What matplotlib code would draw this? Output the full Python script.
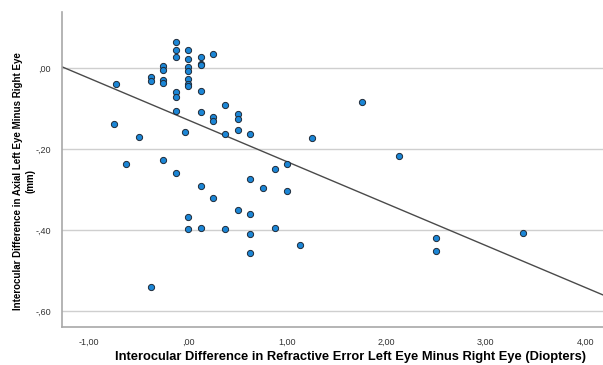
import numpy as np
import matplotlib
matplotlib.use('Agg')
import matplotlib.pyplot as plt
from matplotlib.ticker import FuncFormatter

# 굴절 오차 차이 (D)
refr_diff = [-0.125, -0.125, -0.125, 0.0, 0.0, 0.125, 0.125, 0.125, 0.25, -0.25,
             -0.25, 0.0, 0.0, -0.375, -0.375, -0.25, -0.25, 0.0, 0.0, 0.0,
             -0.73, -0.125, -0.125, 0.125, -0.125, 0.125, 0.25, 0.25, 0.375, -0.75,
             0.5, 0.5, 0.5, 0.375, 0.625, -0.5, -0.035, -0.25, -0.625, -0.125,
             0.125, 0.25, 0.625, 0.75, 0.875, 1.0, 1.0, 0.5, 0.625, 0.0,
             0.0, 0.125, 0.375, 0.625, 0.875, 0.625, 1.125, -0.375, 1.75, 1.25,
             2.125, 2.5, 2.5, 3.375]

# 안축장 차이 (mm)
axial_diff = [0.064, 0.045, 0.028, 0.045, 0.024, 0.028, 0.011, 0.007, 0.035, 0.006,
              -0.004, 0.004, -0.006, -0.022, -0.031, -0.030, -0.037, -0.026, -0.039, -0.043,
              -0.039, -0.059, -0.070, -0.056, -0.106, -0.109, -0.120, -0.130, -0.090, -0.137,
              -0.113, -0.126, -0.153, -0.163, -0.163, -0.170, -0.157, -0.226, -0.237, -0.260,
              -0.291, -0.320, -0.274, -0.297, -0.250, -0.237, -0.304, -0.351, -0.361, -0.367,
              -0.398, -0.394, -0.398, -0.410, -0.394, -0.458, -0.437, -0.541, -0.083, -0.173,
              -0.217, -0.421, -0.451, -0.408]

# 그림에서 읽은 회귀선 (절편, 기울기)
fit_intercept = -0.128
fit_slope = -0.1035

x_ticks = [-1.0, 0.0, 1.0, 2.0, 3.0, 4.0]
y_ticks = [0.0, -0.2, -0.4, -0.6]


def spss_fmt(v, pos):
    s = f"{v:.2f}".replace('.', ',')
    if s.startswith('0,'):
        s = s[1:]
    elif s.startswith('-0,'):
        s = '-' + s[2:]
    if s == '-,00':
        s = ',00'
    return s


plt.rcParams['font.family'] = ['Liberation Sans', 'DejaVu Sans']

fig = plt.figure(figsize=(6.03, 3.65), dpi=100)
ax = fig.add_axes([0.103, 0.104, 0.897, 0.863])

ax.set_xlim(-1.27, 4.18)
ax.set_ylim(-0.64, 0.139)

ax.set_yticks(y_ticks)
ax.set_xticks(x_ticks)
ax.yaxis.grid(True, color='#cfcfcf', linewidth=1.0)
ax.set_axisbelow(True)

# 선형 회귀선
xs = np.array(ax.get_xlim())
ax.plot(xs, fit_intercept + fit_slope * xs, color='#4a4a4a', linewidth=1.0, zorder=2)

ax.scatter(refr_diff, axial_diff, s=20, color='#1b86d6', edgecolors='#1e2a38',
           linewidths=0.7, zorder=3)

ax.xaxis.set_major_formatter(FuncFormatter(spss_fmt))
ax.yaxis.set_major_formatter(FuncFormatter(spss_fmt))
ax.tick_params(length=0, labelsize=6.5, labelcolor='#333333')
ax.tick_params(axis='x', pad=8)
ax.tick_params(axis='y', pad=8)

for side in ['top', 'right']:
    ax.spines[side].set_visible(False)
for side in ['left', 'bottom']:
    ax.spines[side].set_color('#a8a8a8')
    ax.spines[side].set_linewidth(1.2)

ax.set_xlabel('Interocular Difference in Refractive Error Left Eye Minus Right Eye (Diopters)',
              fontsize=9.3, fontweight='bold')
ax.set_ylabel('Interocular Difference in Axial Left Eye Minus Right Eye\n(mm)',
              fontsize=7, fontweight='bold', linespacing=1.2)
ax.xaxis.set_label_coords(0.534, -0.077)
ax.yaxis.set_label_coords(-0.05, 0.463)

fig.savefig('out.png', dpi=100)
